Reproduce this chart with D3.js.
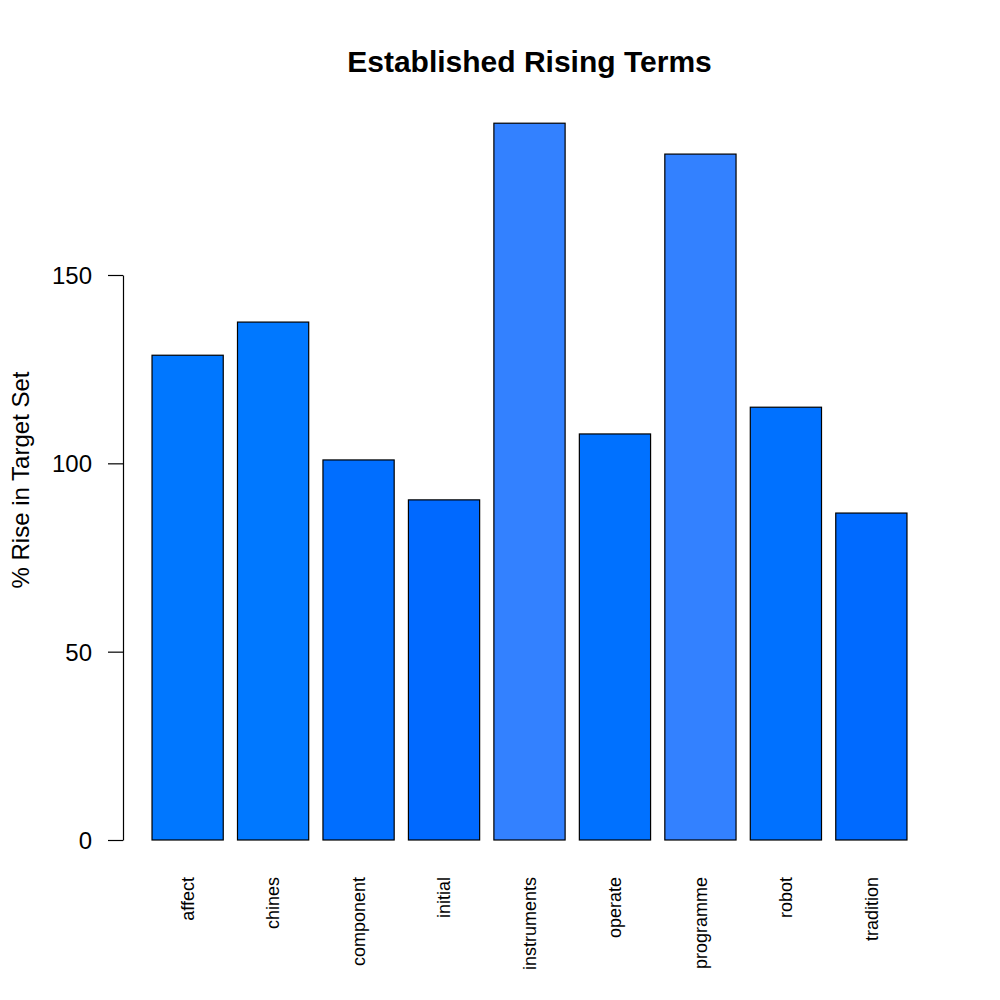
<!DOCTYPE html>
<html>
<head>
<meta charset="utf-8">
<script src="https://cdn.jsdelivr.net/npm/d3@7"></script>
<style>
  body { margin: 0; background: #fff; }
  text { font-family: "Liberation Sans", Arial, sans-serif; }
</style>
</head>
<body>
<div id="chart"></div>
<script>
// data
const terms = ["affect", "chines", "component", "initial", "instruments", "operate", "programme", "robot", "tradition"];
const rises = [128.7, 137.5, 100.9, 90.3, 190.3, 107.8, 182.1, 114.9, 86.8];
const yTicks = [0, 50, 100, 150];

// fill per bar
const barColors = ["#0077ff", "#0078ff", "#006eff", "#0069ff", "#3381ff", "#0071ff", "#3381ff", "#0071ff", "#006aff"];

const svg = d3.select("#chart")
    .append("svg")
    .attr("width", 1000)
    .attr("height", 1000);

svg.append("rect")
    .attr("width", 1000)
    .attr("height", 1000)
    .attr("fill", "#fff");

// X scale (bars of width 1, gap 0.2 like R barplot)
const x = d3.scaleBand()
    .domain(terms)
    .range([144.9, 914.1])
    .paddingInner(1 / 6)
    .paddingOuter(1 / 12);

// Y scale
const y = d3.scaleLinear()
    .domain([0, 150])
    .range([840, 275]);

// bars
svg.append("g")
    .selectAll("rect")
    .data(terms)
    .enter()
    .append("rect")
    .attr("x", d => x(d))
    .attr("y", (d, i) => y(rises[i]))
    .attr("width", x.bandwidth())
    .attr("height", (d, i) => y(0) - y(rises[i]))
    .attr("fill", (d, i) => barColors[i])
    .attr("stroke", "#000")
    .attr("stroke-width", 1.2);

// Y axis
const yAxis = svg.append("g")
    .attr("transform", "translate(123,0)")
    .call(d3.axisLeft(y).tickValues(yTicks).tickSize(15).tickSizeOuter(0).tickPadding(16));
yAxis.selectAll("path, line").attr("stroke", "#000").attr("stroke-width", 1.2);
yAxis.selectAll("text")
    .attr("fill", "#000")
    .style("font-size", "24px")
    .attr("dy", "0.36em");

// category labels, vertical
svg.append("g")
    .selectAll("text")
    .data(terms)
    .enter()
    .append("text")
    .attr("transform", d => "translate(" + (x(d) + x.bandwidth() / 2) + ",877) rotate(-90)")
    .attr("dy", "0.35em")
    .style("text-anchor", "end")
    .style("font-size", "18px")
    .text(d => d);

// title
svg.append("text")
    .attr("x", 529.5)
    .attr("y", 72)
    .style("text-anchor", "middle")
    .style("font-size", "30px")
    .style("font-weight", "bold")
    .text("Established Rising Terms");

// y label
svg.append("text")
    .attr("transform", "translate(29,480) rotate(-90)")
    .style("text-anchor", "middle")
    .style("font-size", "24px")
    .text("% Rise in Target Set");
</script>
</body>
</html>
